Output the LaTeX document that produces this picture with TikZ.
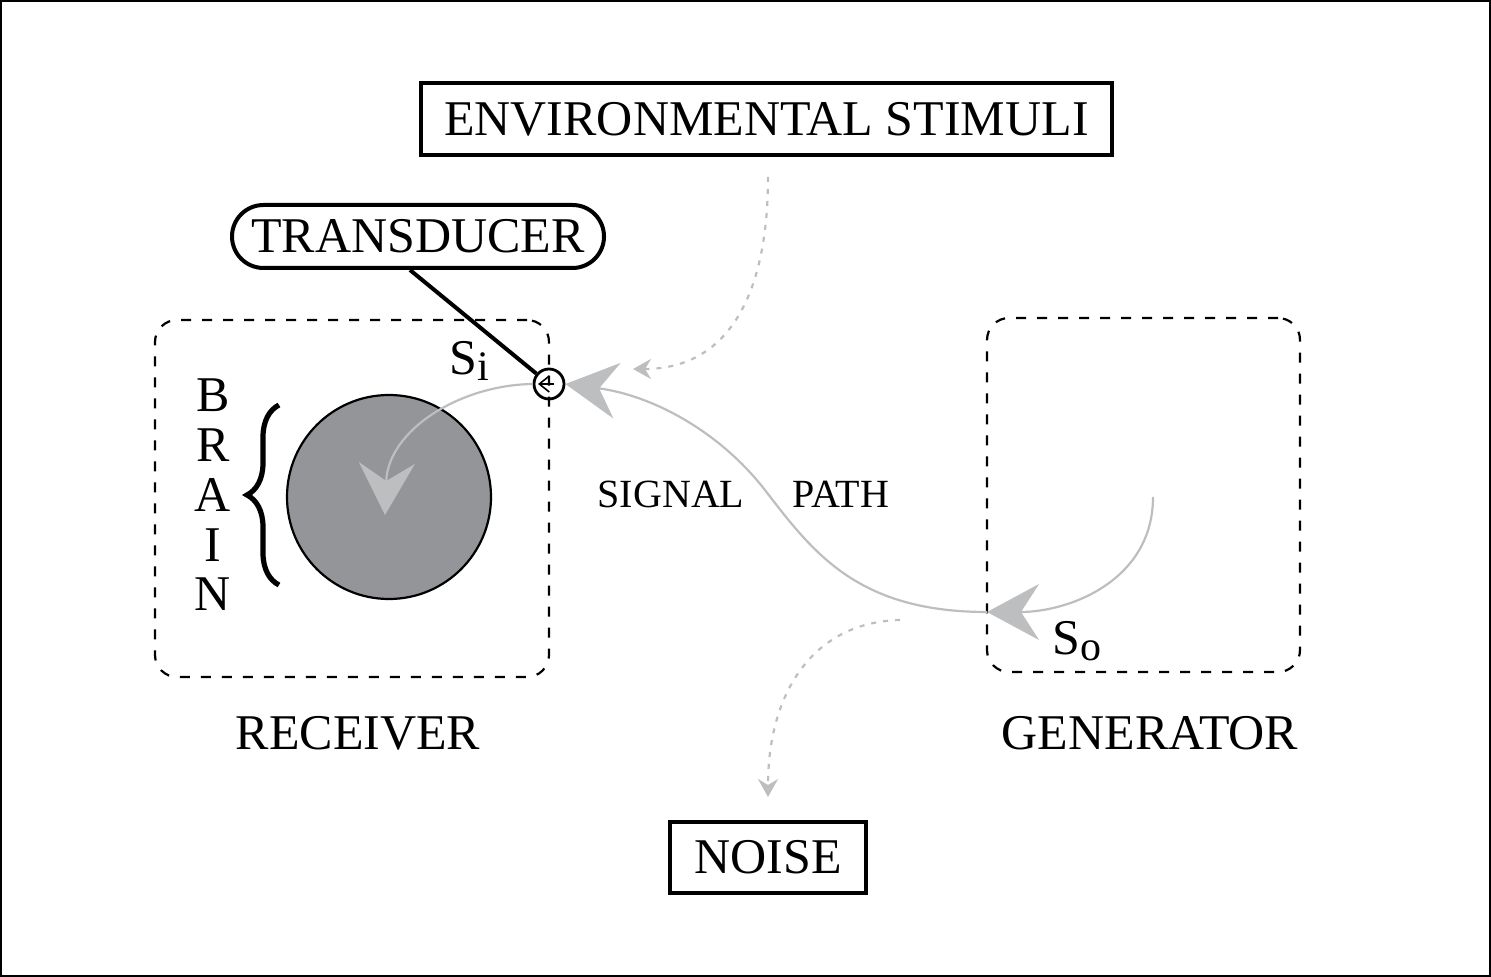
\documentclass[tikz,border=0pt]{standalone}
\usepackage{fontspec}
\setmainfont{Liberation Serif}
\usetikzlibrary{arrows.meta,decorations.pathreplacing,calc}
\definecolor{sig}{HTML}{BCBEC0}
\definecolor{brainfill}{HTML}{939598}
\begin{document}
\begin{tikzpicture}[x=0.5pt,y=-0.5pt,
  lbl/.style={font=\fontsize{25}{30}\selectfont, inner sep=0pt},
  midlbl/.style={font=\fontsize{20}{24}\selectfont, inner sep=0pt},
  box/.style={draw, line width=2pt, font=\fontsize{25}{30}\selectfont, inner sep=0pt},
  dbox/.style={draw, line width=1.1pt, dash pattern=on 5pt off 5.5pt, rounded corners=11pt, inner sep=0pt},
  sigline/.style={draw=sig, line width=1.1pt},
  bigtip/.style={-{Stealth[length=26pt,width=28pt,inset=9pt]}},
  dotarrow/.style={draw=sig, line width=1.1pt, dash pattern=on 2.5pt off 3.5pt, -{Stealth[length=9pt,width=10pt,inset=3pt]}}
]
\useasboundingbox (0,0) rectangle (1491,977);
\draw[line width=1pt] (1,1) rectangle (1490,976);

% boxes with text
\node[box, minimum width=345.5pt, minimum height=36pt] (env) at (766.5,119) {ENVIRONMENTAL STIMULI};
\node[box, rounded corners=15.75pt, minimum width=186pt, minimum height=31.5pt] (trans) at (418,236.5) {TRANSDUCER};
\node[box, minimum width=98pt, minimum height=35.5pt] (noise) at (768,857.5) {NOISE};

% dashed regions
\node[dbox, minimum width=197pt, minimum height=178.5pt] (recv) at (352,498.5) {};
\node[dbox, minimum width=156.5pt, minimum height=177pt] (gen) at (1143.5,495) {};

% labels
\node[lbl] (recvlbl) at (358,733) {RECEIVER};
\node[lbl] (genlbl) at (1150,733) {GENERATOR};
\node[midlbl] (signal) at (671,494) {SIGNAL};
\node[midlbl] (pathlbl) at (841,494) {PATH};
\node[lbl, anchor=base west] (silbl) at (449,375) {S\raisebox{-3pt}{\fontsize{21}{21}\selectfont i}};
\node[lbl, anchor=base west] (solbl) at (1052,654) {S\raisebox{-3pt}{\fontsize{21}{21}\selectfont o}};

% brain letters
\node[lbl] (b1) at (213,395) {B};
\node[lbl] (b2) at (213,445) {R};
\node[lbl] (b3) at (213,495) {A};
\node[lbl] (b4) at (213,545) {I};
\node[lbl] (b5) at (213,594) {N};

% brace
\coordinate (brbot) at (279,585);
\coordinate (brtop) at (279,405);
\draw[decorate, decoration={brace, amplitude=16pt}, line width=2.6pt] (brbot) -- (brtop);

% brain
\node[circle, draw, line width=1.1pt, fill=brainfill, minimum size=102pt, inner sep=0pt] (brain) at (389,497) {};

% transducer point
\node[circle, draw, line width=1.4pt, minimum size=15pt, inner sep=0pt] (si) at (549,384) {};
\draw[line width=0.8pt, -{Straight Barb[length=5pt,width=8pt]}] ($(si.center)+(5,0)$) -- ($(si.center)+(-11,0)$);
\draw[line width=2pt] ($(trans.south)+(-8,0)$) -- (si);

% signal path
\coordinate (gstart) at (1153,497);
\coordinate (so) at (987,612);
\coordinate (braintip) at (385,515);
\draw[sigline, bigtip] (gstart) .. controls (1153,580) and (1070,612) .. (so);
\draw[sigline, bigtip] (so) .. controls (860,612) and (815,555) .. (768,494) .. controls (720,430) and (650,395) .. (si.east);
\draw[sigline, bigtip] (si.west) .. controls (460,385) and (388,430) .. (braintip);

% stimuli and noise
\coordinate (es) at (768,177);
\coordinate (ee) at (633,369);
\draw[dotarrow] (es) .. controls (768,300) and (725,369) .. (ee);
\coordinate (ns) at (900,620);
\coordinate (ne) at (768,797);
\draw[dotarrow] (ns) .. controls (815,622) and (768,690) .. (ne);
\end{tikzpicture}
\end{document}
